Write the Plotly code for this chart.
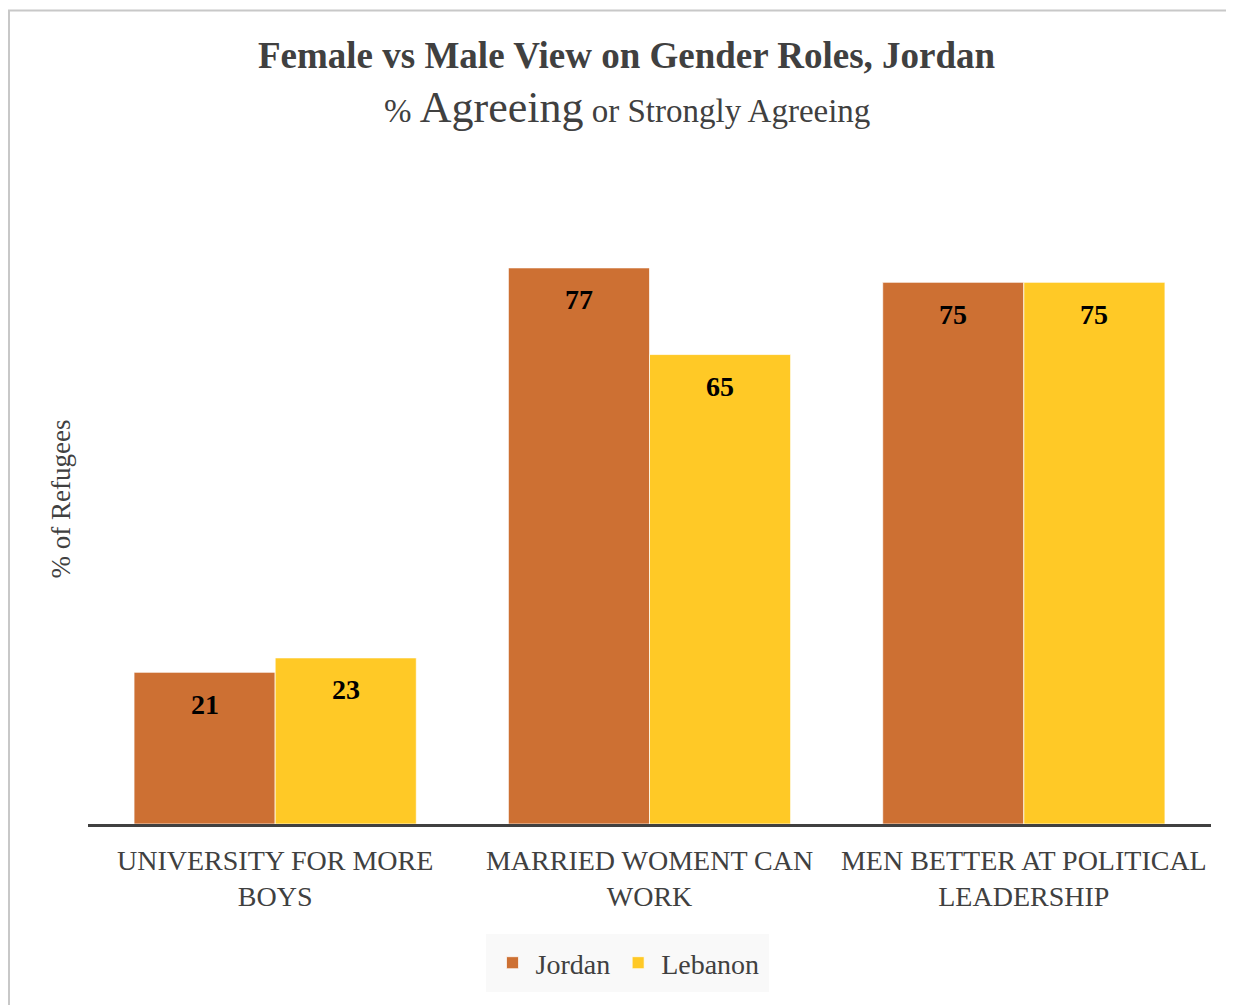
import plotly.graph_objects as go

categories = ["UNIVERSITY FOR MORE<br>BOYS", "MARRIED WOMENT CAN<br>WORK", "MEN BETTER AT POLITICAL<br>LEADERSHIP"]
jordan = [21, 77, 75]
lebanon = [23, 65, 75]
series_names = ["Jordan", "Lebanon"]
colors = ["#CD7033", "#FFC926"]

FONT = "Liberation Serif"
GRAY = "#404040"
W, H = 1226, 997
L, T, PW, PH = 80, 166, 1123, 650
BARGAP = 0.246

fig = go.Figure()
for name, vals, col in zip(series_names, [jordan, lebanon], colors):
    fig.add_trace(go.Bar(
        name=name, x=categories, y=vals,
        marker=dict(color=col, line=dict(color="rgba(255,255,255,0.7)", width=1)),
    ))

# value labels inside the top of each bar
bar_px = PW / len(categories) * (1 - BARGAP) / 2
annotations = []
for i, vals in enumerate([jordan, lebanon]):
    shift = (i - 0.5) * bar_px
    for cat, v in zip(categories, vals):
        annotations.append(dict(
            x=cat, y=v, xref="x", yref="y", text=f"<b>{v}</b>", showarrow=False,
            xshift=shift, yshift=-32, xanchor="center", yanchor="middle",
            font=dict(family=FONT, size=28, color="black")))

annotations += [
    dict(text="<b>Female vs Male View on Gender Roles, Jordan</b>",
         xref="paper", yref="paper", x=(618.5 - L) / PW, y=(T + PH - 48) / PH,
         xanchor="center", yanchor="middle", showarrow=False,
         font=dict(family=FONT, size=37, color=GRAY)),
    dict(text="<span style='font-size:33px'>% </span><span style='font-size:44px'>Agreeing</span>"
              "<span style='font-size:33px'> or Strongly Agreeing</span>",
         xref="paper", yref="paper", x=(618.5 - L) / PW, y=(T + PH - 100) / PH,
         xanchor="center", yanchor="middle", showarrow=False,
         font=dict(family=FONT, size=33, color=GRAY)),
]

fig.update_layout(
    width=W, height=H,
    margin=dict(l=L, r=W - L - PW, t=T, b=H - T - PH),
    paper_bgcolor="white", plot_bgcolor="white",
    barmode="group", bargap=BARGAP, bargroupgap=0,
    font=dict(family=FONT, color=GRAY),
    showlegend=True,
    legend=dict(orientation="h", x=619 / W, xref="container", xanchor="center",
                y=1 - 955 / H, yref="container", yanchor="middle",
                bgcolor="#f9f9f9", bordercolor="#f9f9f9", borderwidth=4,
                font=dict(family=FONT, size=28, color=GRAY),
                itemwidth=36, traceorder="normal"),
    annotations=annotations,
    xaxis=dict(showline=True, linecolor=GRAY, linewidth=3, ticks="outside",
               ticklen=9, tickcolor="rgba(0,0,0,0)",
               tickfont=dict(family=FONT, size=28, color=GRAY)),
    yaxis=dict(range=[0, 90], showgrid=False, showticklabels=False, zeroline=False,
               title=dict(text="% of Refugees", font=dict(family=FONT, size=27, color=GRAY), standoff=8)),
    shapes=[dict(type="rect", xref="paper", yref="paper",
                 x0=(1 - L) / PW, x1=1.5, y0=-0.6, y1=(T + PH - 2.5) / PH,
                 line=dict(color="#c8c8c8", width=2), fillcolor="rgba(0,0,0,0)", layer="below")],
)

fig.write_html("out.html")
